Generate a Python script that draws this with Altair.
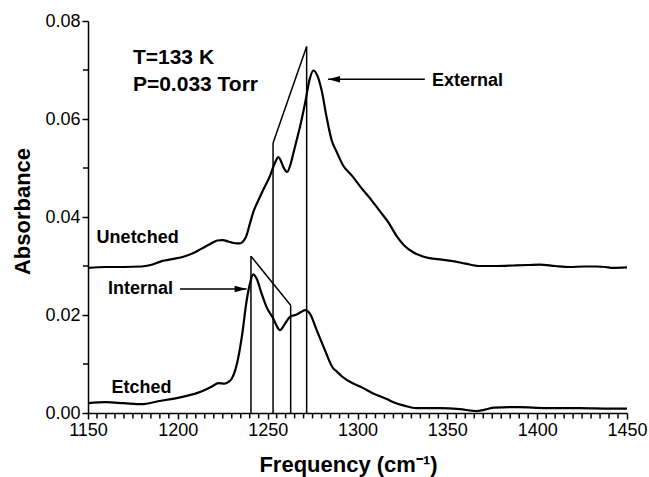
import altair as alt
import pandas as pd

FONT = "Liberation Sans, Arial, sans-serif"

unetched_freq = [1150, 1160, 1170, 1180, 1186, 1191, 1197, 1204, 1209, 1213, 1218, 1222,
                 1225, 1228, 1231, 1234.5, 1236, 1238, 1240, 1242, 1244.8, 1247.6, 1251.3,
                 1253.1, 1254.6, 1255.9, 1257.3, 1258.7, 1260.9, 1262.5, 1264.3, 1266, 1268,
                 1270.8, 1273.5, 1275.4, 1277.6, 1280, 1282.8, 1285.6, 1288.4, 1292, 1297,
                 1302, 1307, 1312, 1317, 1322, 1326, 1331, 1336, 1340, 1347, 1353, 1360, 1368,
                 1378, 1387, 1395, 1401.5, 1410, 1418, 1426, 1433, 1438, 1442, 1450]
unetched_abs = [0.0296, 0.0298, 0.0298, 0.0299, 0.0303, 0.0310, 0.0314, 0.0320, 0.0327, 0.0335,
                0.0345, 0.0352, 0.0353, 0.0350, 0.0347, 0.0346, 0.0349, 0.0360, 0.0385, 0.0410,
                0.0434, 0.0456, 0.0484, 0.0502, 0.0515, 0.0522, 0.0515, 0.0502, 0.0492, 0.0505,
                0.0530, 0.0555, 0.0584, 0.0632, 0.0683, 0.0699, 0.0689, 0.0659, 0.0604, 0.0557,
                0.0533, 0.0505, 0.0484, 0.0460, 0.0438, 0.0414, 0.0390, 0.0360, 0.0342, 0.0328,
                0.0320, 0.0316, 0.0313, 0.0310, 0.0305, 0.0300, 0.0300, 0.0301, 0.0302, 0.0303,
                0.0300, 0.0298, 0.0299, 0.0299, 0.0298, 0.0296, 0.0297]

etched_freq = [1150, 1160, 1170, 1180, 1189, 1200, 1206, 1211, 1215, 1219, 1222.5, 1226, 1228,
               1230, 1232, 1234, 1236, 1238, 1240, 1242, 1243.9, 1246.6, 1249.4,
               1253.1, 1255, 1256.8, 1259.6, 1262.4, 1266.1, 1268.5, 1270.8, 1273.5, 1277.3,
               1281.9, 1286.5, 1288.4, 1291.2, 1297.6, 1301.4, 1308.7, 1316, 1320, 1326, 1333,
               1346, 1357, 1366, 1371, 1376, 1390, 1405, 1424, 1440, 1450]
etched_abs = [0.0020, 0.0022, 0.0020, 0.0018, 0.0024, 0.0031, 0.0036, 0.0041, 0.0047, 0.0054,
              0.0061, 0.0060, 0.0063, 0.0070, 0.0088, 0.0120, 0.0165, 0.0222, 0.0262, 0.0283,
              0.0274, 0.0244, 0.0216, 0.0193, 0.0178, 0.0169, 0.0182, 0.0196, 0.0201, 0.0206,
              0.0210, 0.0203, 0.0169, 0.0128, 0.0091, 0.0085, 0.0075, 0.0060, 0.0054, 0.0040,
              0.0029, 0.0022, 0.0015, 0.0010, 0.0010, 0.0008, 0.0004, 0.0007, 0.0011, 0.0012,
              0.0010, 0.0010, 0.0009, 0.0009]

marker_freq = [1240.7, 1253, 1262.8, 1271.7]
marker_top = [0.032, 0.0551, 0.022, 0.0748]

slant_x1 = [1253, 1240.7]
slant_y1 = [0.0551, 0.032]
slant_x2 = [1271.7, 1262.8]
slant_y2 = [0.0748, 0.022]

arrow_x1 = [1337.5, 1201.2]
arrow_x2 = [1283.6, 1238.3]
arrow_y = [0.0681, 0.0253]

ann_text = ["T=133 K", "P=0.033 Torr", "External", "Unetched", "Internal", "Etched"]
ann_x = [1175.0, 1175.0, 1341.4, 1154.8, 1161.1, 1163.1]
ann_y = [0.0712, 0.0657, 0.0667, 0.0347, 0.0242, 0.0040]
ann_size = [21, 21, 18, 18, 18, 18]

x_major = list(range(1150, 1451, 50))
x_minor = [v for v in range(1155, 1450, 5) if v % 50 != 0]
y_major = [0.0, 0.02, 0.04, 0.06, 0.08]
y_minor = [0.01, 0.03, 0.05, 0.07]

curves = pd.concat([
    pd.DataFrame({"f": unetched_freq, "a": unetched_abs, "s": "Unetched"}),
    pd.DataFrame({"f": etched_freq, "a": etched_abs, "s": "Etched"}),
])
markers = pd.DataFrame({"f": marker_freq, "a0": [0.0] * len(marker_freq), "a1": marker_top})
slants = pd.DataFrame({"f1": slant_x1, "a1": slant_y1, "f2": slant_x2, "a2": slant_y2})
arrows = pd.DataFrame({"f1": arrow_x1, "f2": arrow_x2, "a": arrow_y,
                       "shape": ["M0,0 L1,-0.27 L1,0.27 Z", "M0,0 L-1,-0.27 L-1,0.27 Z"]})
anns = pd.DataFrame({"t": ann_text, "f": ann_x, "a": ann_y, "fs": ann_size})

# minor ticks just outside the axis lines (length ~5 px expressed in data units)
xminor_df = pd.DataFrame({"fm": x_minor, "am0": [0.0] * len(x_minor), "am1": [-0.0011] * len(x_minor)})
yminor_df = pd.DataFrame({"am": y_minor, "fm0": [1150.0] * len(y_minor), "fm1": [1147.2] * len(y_minor)})

xscale = alt.Scale(domain=[1150, 1450], nice=False, zero=False)
yscale = alt.Scale(domain=[0, 0.08], nice=False)

xaxis = alt.Axis(
    values=x_major, format="d", title="Frequency (cm⁻¹)",
    tickSize=6, labelOverlap=False, labelFlush=False, grid=False,
    titleX=260, titleY=58, titleBaseline="alphabetic",
)
yaxis = alt.Axis(
    values=y_major, format=".2f", title="Absorbance",
    tickSize=6, labelOverlap=False, labelFlush=False, grid=False,
    titlePadding=10, titleY=190,
)

lines = alt.Chart(curves).mark_line(color="black", strokeWidth=2.2, interpolate="monotone").encode(
    x=alt.X("f:Q", scale=xscale, axis=xaxis),
    y=alt.Y("a:Q", scale=yscale, axis=yaxis),
    detail="s:N",
)

xminor = alt.Chart(xminor_df).mark_rule(color="black", strokeWidth=1.5, clip=False).encode(
    x="fm:Q", y="am0:Q", y2="am1:Q"
)
yminor = alt.Chart(yminor_df).mark_rule(color="black", strokeWidth=1.5, clip=False).encode(
    y="am:Q", x="fm0:Q", x2="fm1:Q"
)

vrules = alt.Chart(markers).mark_rule(color="black", strokeWidth=1.5).encode(
    x="f:Q", y="a0:Q", y2="a1:Q"
)
srules = alt.Chart(slants).mark_rule(color="black", strokeWidth=1.5).encode(
    x="f1:Q", y="a1:Q", x2="f2:Q", y2="a2:Q"
)
arules = alt.Chart(arrows).mark_rule(color="black", strokeWidth=1.5).encode(
    x="f1:Q", x2="f2:Q", y="a:Q"
)
heads = alt.Chart(arrows).mark_point(filled=True, color="black", opacity=1, size=576, strokeWidth=0).encode(
    x="f2:Q", y="a:Q", shape=alt.Shape("shape:N", scale=None)
)
texts = alt.Chart(anns).mark_text(align="left", baseline="alphabetic", font=FONT,
                                  fontWeight="bold", color="black").encode(
    x="f:Q", y="a:Q", text="t:N", size=alt.Size("fs:Q", scale=None)
)

chart = alt.layer(lines, vrules, srules, arules, heads, texts, xminor, yminor).properties(
    width=539, height=392,
    autosize=alt.AutoSizeParams(type="none"),
    padding={"left": 88, "top": 21, "right": 22, "bottom": 64},
).configure_view(stroke=None).configure_axis(
    domainColor="black", domainWidth=1.5, tickColor="black", tickWidth=1.5,
    labelFont=FONT, labelFontSize=18, labelColor="black", labelPadding=2,
    titleFont=FONT, titleFontSize=22, titleFontWeight="bold", titleColor="black",
)

chart.save("out.html", embed_options={"renderer": "svg", "actions": False})
